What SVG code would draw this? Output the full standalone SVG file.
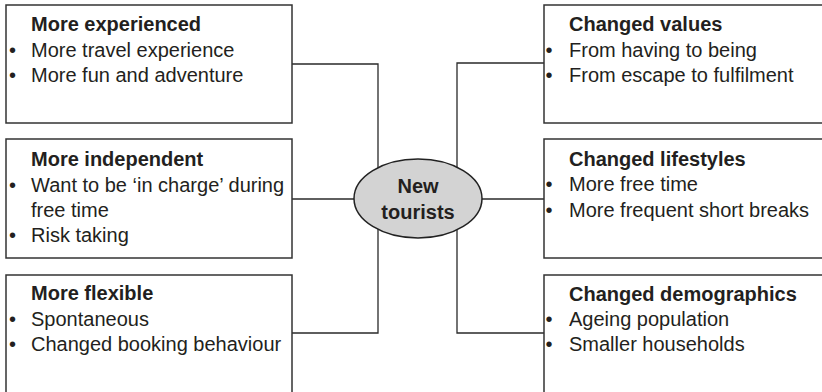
<svg xmlns="http://www.w3.org/2000/svg" width="822" height="392" viewBox="0 0 822 392">
<style>
  .box { fill: #ffffff; stroke: #333333; stroke-width: 1.5; }
  .conn { fill: none; stroke: #2a2a2a; stroke-width: 1.3; }
  .ell { fill: #d3d3d3; stroke: #222222; stroke-width: 1.5; }
  text { font-family: "Liberation Sans", Arial, sans-serif; font-size: 20px; fill: #231f20; }
  .t { font-weight: bold; }
  .c { font-weight: bold; text-anchor: middle; }
</style>
<rect width="822" height="392" fill="#ffffff"/>
<g id="connectors">
  <path class="conn" d="M292,64 H378 V333 H292"/>
  <path class="conn" d="M292,199 H354"/>
  <path class="conn" d="M544,63 H457 V333 H544"/>
  <path class="conn" d="M482,199 H544"/>
</g>
<g id="more-experienced">
  <rect class="box" x="6" y="5" width="286" height="118"/>
  <text class="t" x="31" y="31">More experienced</text>
  <text x="9" y="56.5">•</text><text x="31" y="56.5">More travel experience</text>
  <text x="9" y="82">•</text><text x="31" y="82">More fun and adventure</text>
</g>
<g id="more-independent">
  <rect class="box" x="6" y="139" width="286" height="119"/>
  <text class="t" x="31" y="166">More independent</text>
  <text x="9" y="192">•</text><text x="31" y="192">Want to be ‘in charge’ during</text>
  <text x="31" y="217">free time</text>
  <text x="9" y="242">•</text><text x="31" y="242">Risk taking</text>
</g>
<g id="more-flexible">
  <rect class="box" x="6" y="275" width="286" height="130"/>
  <text class="t" x="31" y="300">More flexible</text>
  <text x="9" y="325.5">•</text><text x="31" y="325.5">Spontaneous</text>
  <text x="9" y="351">•</text><text x="31" y="351">Changed booking behaviour</text>
</g>
<g id="changed-values">
  <rect class="box" x="544" y="5" width="300" height="118"/>
  <text class="t" x="569" y="31">Changed values</text>
  <text x="545.5" y="56.5">•</text><text x="569" y="56.5">From having to being</text>
  <text x="545.5" y="82">•</text><text x="569" y="82">From escape to fulfilment</text>
</g>
<g id="changed-lifestyles">
  <rect class="box" x="544" y="139" width="300" height="119"/>
  <text class="t" x="569" y="166">Changed lifestyles</text>
  <text x="545.5" y="191">•</text><text x="569" y="191">More free time</text>
  <text x="545.5" y="216.5">•</text><text x="569" y="216.5">More frequent short breaks</text>
</g>
<g id="changed-demographics">
  <rect class="box" x="544" y="275" width="300" height="130"/>
  <text class="t" x="569" y="300.5">Changed demographics</text>
  <text x="545.5" y="326">•</text><text x="569" y="326">Ageing population</text>
  <text x="545.5" y="351">•</text><text x="569" y="351">Smaller households</text>
</g>
<g id="new-tourists">
  <ellipse class="ell" cx="418" cy="198.5" rx="64" ry="39.5"/>
  <text class="c" x="418" y="193">New</text>
  <text class="c" x="418" y="219">tourists</text>
</g>
</svg>
